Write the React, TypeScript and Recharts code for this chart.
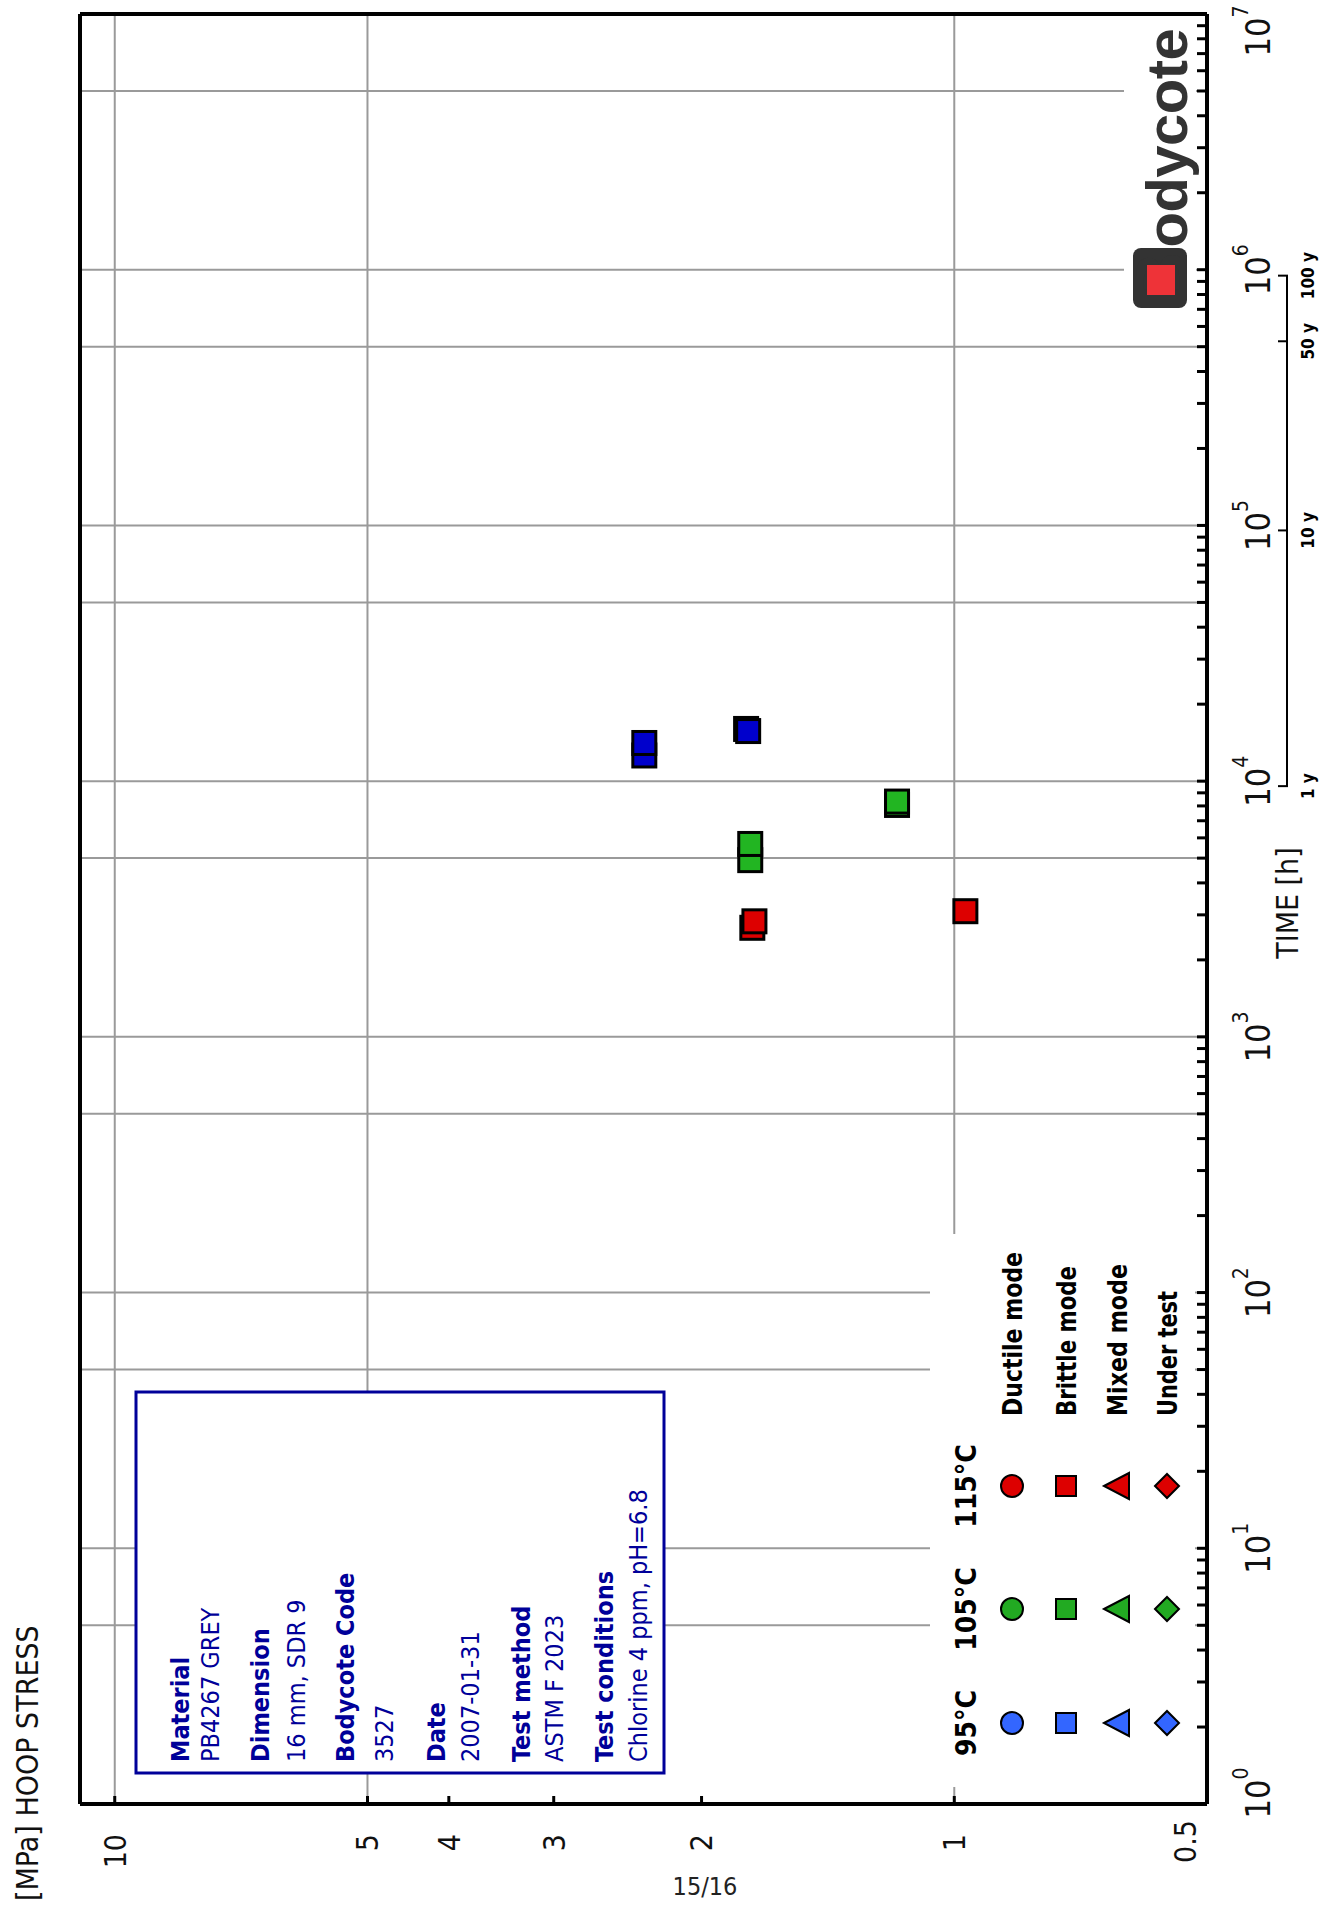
import { ScatterChart, Scatter, XAxis, YAxis, CartesianGrid } from 'recharts'

const FONT = "'Liberation Sans Narrow', 'DejaVu Sans Condensed', 'Liberation Sans', sans-serif"
const NAVY = '#000099'

// brittle failures per temperature: time [h] and hoop stress [MPa]
const hours95 = [12600, 14100, 16000, 15700]
const stress95 = [2.34, 2.34, 1.77, 1.76]
const hours105 = [8070, 8320, 4910, 5680]
const stress105 = [1.17, 1.17, 1.75, 1.75]
const hours115 = [2670, 2830, 3100]
const stress115 = [1.74, 1.73, 0.97]

const decades = [1, 10, 100, 1000, 10000, 100000, 1000000]
const mantissas = [1, 2, 3, 4, 5, 6, 7, 8, 9]
const timeTicks = [...decades.flatMap((d) => mantissas.map((m) => m * d)), 10000000]
const timeGrid = [5, 10, 50, 100, 500, 1000, 5000, 10000, 50000, 100000, 500000, 1000000, 5000000]
const stressTicks = [0.5, 1, 2, 3, 4, 5, 10]
const stressGrid = [1, 5, 10]
const yearHours = [9560, 95600, 525000, 948000]
const yearLabels = ['1 y', '10 y', '50 y', '100 y']

const tempLabels = ['95°C', '105°C', '115°C']
const tempColors = ['#3366ff', '#22aa22', '#dd0000']
const modeLabels = ['Ductile mode', 'Brittle mode', 'Mixed mode', 'Under test']
const modeWidths = [164, 150, 152, 125]

const infoHeads = ['Material', 'Dimension', 'Bodycote Code', 'Date', 'Test method', 'Test conditions']
const infoValues = ['PB4267 GREY', '16 mm, SDR 9', '3527', '2007-01-31', 'ASTM F 2023', 'Chlorine 4 ppm, pH=6.8']
const headLines = [189, 269, 354, 445, 530, 613]
const valueLines = [219, 305, 393, 479, 563, 647]

const toPoints = (hours: number[], stress: number[]) => hours.map((t, i) => ({ t, s: stress[i] }))

const series = [
  { name: '95°C', data: toPoints(hours95, stress95), color: '#0000cc' },
  { name: '105°C', data: toPoints(hours105, stress105), color: '#22b522' },
  { name: '115°C', data: toPoints(hours115, stress115), color: '#dd0000' },
]

// chart is laid out time-horizontal, then the whole sheet is turned 90° ccw
const W = 1906
const H = 1332

const squareShape = (color: string) => (props: any) => {
  const { cx, cy } = props
  return <rect x={cx - 11.5} y={cy - 11.5} width={23} height={23} fill={color} stroke="#000" strokeWidth={3} />
}

const TimeTick = (props: any) => {
  const { x, y, payload } = props
  const lg = Math.log10(payload.value)
  const exp = Math.round(lg)
  if (Math.abs(lg - exp) > 1e-9) return null
  // end labels are pulled inside the frame
  const shift = exp === 0 ? 11 : exp === 7 ? -17 : 0
  return (
    <text x={x + shift} y={y + 63} textAnchor="middle" fontFamily={FONT} fontSize={34} fill="#111">
      10<tspan dy={-22} fontSize={21}>{exp}</tspan>
    </text>
  )
}

const StressTick = (props: any) => {
  const { x, y, payload } = props
  const corner = payload.value === 0.5
  return (
    <text x={corner ? x : x - 14} y={corner ? y - 22 : y} dy="0.36em" textAnchor="end" fontFamily={FONT} fontSize={30} fill="#111">
      {String(payload.value)}
    </text>
  )
}

let prevYearX: number | null = null
const YearTick = (props: any) => {
  const { x, y, index } = props
  const prev = index === 0 ? null : prevYearX
  prevYearX = x
  return (
    <g>
      {prev !== null && <line x1={prev} y1={y} x2={x} y2={y} stroke="#000" strokeWidth={2} />}
      <line x1={x} y1={y + 1} x2={x} y2={y - 9} stroke="#000" strokeWidth={2} />
      <text x={x} y={y + 27} textAnchor="middle" fontFamily={FONT} fontWeight="bold" fontSize={17} fill="#000">
        {yearLabels[index]}
      </text>
    </g>
  )
}

function LegendSymbol({ row, cx, cy, color }: { row: number; cx: number; cy: number; color: string }) {
  const common = { fill: color, stroke: '#000', strokeWidth: 2 }
  if (row === 0) return <circle cx={cx} cy={cy} r={11} {...common} />
  if (row === 1) return <rect x={cx - 10} y={cy - 10} width={20} height={20} {...common} />
  if (row === 2) return <polygon points={`${cx},${cy - 13} ${cx + 13},${cy + 12} ${cx - 13},${cy + 12}`} {...common} />
  return <polygon points={`${cx},${cy - 12} ${cx + 12},${cy} ${cx},${cy + 12} ${cx - 12},${cy}`} {...common} />
}

function Overlay() {
  const tempX = [183, 297, 420]
  const rowY = [1012, 1066, 1117, 1167]
  return (
    <svg width={W} height={H} style={{ position: 'absolute', left: 0, top: 0, pointerEvents: 'none' }}>
      <text x={5} y={38} fontFamily={FONT} fontSize={30} fill="#111">[MPa] HOOP STRESS</text>
      <text x={1003} y={1298} textAnchor="middle" fontFamily={FONT} fontSize={30} fill="#111">TIME [h]</text>

      {/* info box */}
      <rect x={133} y={136} width={381} height={528} fill="#fff" stroke={NAVY} strokeWidth={3} />
      {infoHeads.map((head, i) => (
        <g key={head} fontFamily={FONT} fill={NAVY}>
          <text x={144} y={headLines[i]} fontSize={25} fontWeight="bold">{head}</text>
          <text x={144} y={valueLines[i]} fontSize={25}>{infoValues[i]}</text>
        </g>
      ))}

      {/* legend */}
      <rect x={119} y={930} width={553} height={265} fill="#fff" />
      {tempLabels.map((t, j) => (
        <text key={t} x={tempX[j]} y={976} textAnchor="middle" fontFamily={FONT} fontWeight="bold" fontSize={28} fill="#000">{t}</text>
      ))}
      {modeLabels.map((m, i) => (
        <g key={m}>
          {tempColors.map((c, j) => (
            <LegendSymbol key={c} row={i} cx={tempX[j]} cy={rowY[i]} color={c} />
          ))}
          <text x={490} y={rowY[i] + 10} fontFamily={FONT} fontWeight="bold" fontSize={27} textLength={modeWidths[i]} lengthAdjust="spacingAndGlyphs" fill="#000">{m}</text>
        </g>
      ))}

      {/* logo */}
      <rect x={1590} y={1124} width={296} height={72} fill="#fff" />
      <rect x={1598} y={1133} width={60} height={54} rx={8} fill="#333" />
      <text x={1601} y={1187} fontFamily="'Liberation Sans', Arial, sans-serif" fontWeight="bold" fill="#333">
        <tspan fontSize={74}>B</tspan>
        <tspan fontSize={58} dx={4} letterSpacing={-0.5}>odycote</tspan>
      </text>
      <rect x={1611} y={1147} width={30} height={28} fill="#ee3338" />
    </svg>
  )
}

export default function App() {
  prevYearX = null
  return (
    <div style={{ position: 'absolute', left: 0, top: 0, width: 1332, height: 1906, overflow: 'hidden', background: '#fff' }}>
      <div style={{ position: 'absolute', left: 0, top: 0, width: W, height: H, transformOrigin: '0 0', transform: `translateY(${W}px) rotate(-90deg)` }}>
        <ScatterChart width={W} height={H} margin={{ top: 0, right: 0, bottom: 0, left: 0 }}>
          <CartesianGrid stroke="#9a9a9a" strokeWidth={2} verticalValues={timeGrid} horizontalValues={stressGrid} />
          <XAxis
            dataKey="t"
            type="number"
            scale="log"
            domain={[1, 10000000]}
            allowDataOverflow
            ticks={timeTicks}
            interval={0}
            height={80}
            tickSize={-10}
            tickMargin={10}
            axisLine={{ stroke: '#000', strokeWidth: 4 }}
            tickLine={{ stroke: '#000', strokeWidth: 3 }}
            tick={TimeTick}
          />
          <XAxis
            xAxisId="yr"
            dataKey="t"
            type="number"
            scale="log"
            domain={[1, 10000000]}
            allowDataOverflow
            ticks={yearHours}
            interval={0}
            height={45}
            tickSize={0}
            tickMargin={0}
            axisLine={false}
            tickLine={false}
            tick={YearTick}
          />
          <XAxis
            xAxisId="top"
            orientation="top"
            dataKey="t"
            type="number"
            scale="log"
            domain={[1, 10000000]}
            allowDataOverflow
            ticks={timeTicks}
            interval={0}
            height={80}
            tickSize={-10}
            axisLine={{ stroke: '#000', strokeWidth: 4 }}
            tickLine={{ stroke: '#000', strokeWidth: 3 }}
            tick={false}
          />
          <YAxis
            dataKey="s"
            type="number"
            scale="log"
            domain={[0.5, 11]}
            allowDataOverflow
            ticks={stressTicks}
            interval={0}
            width={102}
            tickSize={-8}
            tickMargin={24}
            axisLine={{ stroke: '#000', strokeWidth: 4 }}
            tickLine={{ stroke: '#000', strokeWidth: 3 }}
            tick={StressTick}
          />
          <YAxis
            yAxisId="right"
            orientation="right"
            dataKey="s"
            type="number"
            scale="log"
            domain={[0.5, 11]}
            allowDataOverflow
            width={14}
            axisLine={{ stroke: '#000', strokeWidth: 4 }}
            tickLine={false}
            tick={false}
          />
          {series.map((sr) => (
            <Scatter key={sr.name} name={sr.name} data={sr.data} shape={squareShape(sr.color)} isAnimationActive={false} />
          ))}
        </ScatterChart>
        <Overlay />
      </div>
      <div style={{ position: 'absolute', left: 705, top: 1886, transform: 'translate(-50%, -50%)', fontFamily: FONT, fontSize: 25, color: '#222', whiteSpace: 'nowrap' }}>
        15/16
      </div>
    </div>
  )
}
